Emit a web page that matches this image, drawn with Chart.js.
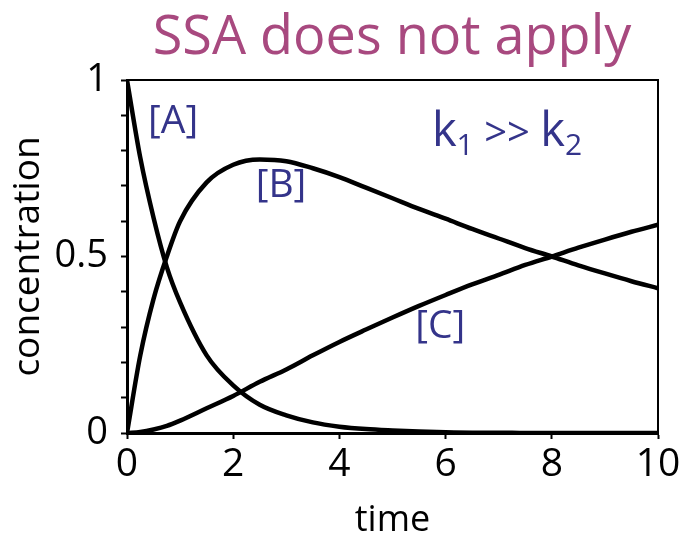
<!DOCTYPE html>
<html>
<head>
<meta charset="utf-8">
<script src="https://cdn.jsdelivr.net/npm/chart.js@4.4.1/dist/chart.umd.min.js"></script>
<style>
  html, body { margin: 0; padding: 0; background: #fff; }
  #wrap { width: 687px; height: 536px; }
</style>
</head>
<body>
<div id="wrap"><canvas id="chart" width="687" height="536"></canvas></div>
<script>
// time points and concentrations
const times = [0, 0.25, 0.5, 0.75, 1, 1.5, 2, 2.5, 3, 3.5, 4, 4.5, 5, 5.5, 6, 6.5, 7, 7.5, 8, 8.5, 9, 9.5, 10];
const concA = [1, 0.78, 0.61, 0.47, 0.37, 0.22, 0.135, 0.08, 0.05, 0.03, 0.018, 0.011, 0.007, 0.004, 0.002, 0.001, 0.001, 0, 0, 0, 0, 0, 0];
const concB = [0, 0.22, 0.38, 0.5, 0.6, 0.71, 0.76, 0.775, 0.77, 0.75, 0.725, 0.695, 0.665, 0.635, 0.607, 0.578, 0.551, 0.524, 0.5, 0.475, 0.452, 0.43, 0.41];
const concC = [0, 0.003, 0.01, 0.02, 0.035, 0.07, 0.105, 0.145, 0.18, 0.22, 0.258, 0.293, 0.327, 0.36, 0.391, 0.421, 0.448, 0.476, 0.5, 0.525, 0.548, 0.57, 0.59];

const xTicks = [0, 2, 4, 6, 8, 10];
const yLabels = { 0: '0', 5: '0.5', 10: '1' };

const FONT = "'Open Sans', sans-serif";
const PINK = '#a8497f';
const NAVY = '#34348a';

const series = (ys) => times.map((t, i) => ({ x: t, y: ys[i] }));

// curve labels, in data coordinates
const curveLabels = [
  { text: '[A]', t: 0.87, c: 0.88 },
  { text: '[B]', t: 2.9,  c: 0.70 },
  { text: '[C]', t: 5.9,  c: 0.30 },
];

const overlay = {
  id: 'overlay',
  afterDraw(chart) {
    const { ctx, chartArea: a, scales } = chart;
    ctx.save();

    // top + right frame
    ctx.strokeStyle = '#000';
    ctx.lineWidth = 2;
    ctx.beginPath();
    ctx.moveTo(a.left, a.top);
    ctx.lineTo(a.right, a.top);
    ctx.lineTo(a.right, a.bottom);
    ctx.stroke();

    // title
    ctx.fillStyle = PINK;
    ctx.font = '54px ' + FONT;
    ctx.textAlign = 'center';
    ctx.textBaseline = 'alphabetic';
    ctx.fillText('SSA does not apply', 392, 54);

    // [A] [B] [C]
    ctx.fillStyle = NAVY;
    ctx.font = '39px ' + FONT;
    ctx.textBaseline = 'middle';
    curveLabels.forEach(l => {
      ctx.fillText(l.text, scales.x.getPixelForValue(l.t), scales.y.getPixelForValue(l.c));
    });

    // k1 >> k2
    const parts = [
      { s: 'k', size: 47, dy: 0 },
      { s: '1', size: 30, dy: 9 },
      { s: ' >> ', size: 40, dy: 0 },
      { s: 'k', size: 47, dy: 0 },
      { s: '2', size: 30, dy: 9 },
    ];
    ctx.textAlign = 'left';
    ctx.textBaseline = 'alphabetic';
    let w = 0;
    parts.forEach(p => { ctx.font = p.size + 'px ' + FONT; w += ctx.measureText(p.s).width; });
    let x = 507 - w / 2;
    parts.forEach(p => {
      ctx.font = p.size + 'px ' + FONT;
      ctx.fillText(p.s, x, 146 + p.dy);
      x += ctx.measureText(p.s).width;
    });
    ctx.restore();
  }
};

const lineStyle = { borderColor: '#000', borderWidth: 4.5, pointRadius: 0, fill: false, cubicInterpolationMode: 'monotone' };

new Chart(document.getElementById('chart'), {
  type: 'line',
  data: {
    datasets: [
      { label: '[A]', data: series(concA), ...lineStyle },
      { label: '[B]', data: series(concB), ...lineStyle },
      { label: '[C]', data: series(concC), ...lineStyle },
    ],
  },
  options: {
    responsive: false,
    animation: false,
    layout: { padding: { top: 80, right: 29, left: 0, bottom: 0 } },
    plugins: { legend: { display: false }, tooltip: { enabled: false } },
    scales: {
      x: {
        type: 'linear',
        min: 0, max: 10,
        afterFit: s => { s.height = 103; },
        afterBuildTicks: s => { s.ticks = xTicks.map(v => ({ value: v })); },
        ticks: { color: '#000', font: { family: FONT, size: 39 }, padding: 2, maxRotation: 0 },
        grid: { drawOnChartArea: false, drawTicks: true, tickLength: 6, tickWidth: 2, color: '#000' },
        border: { display: true, color: '#000', width: 3 },
        title: { display: true, text: 'time', color: '#000', font: { family: FONT, size: 36 }, padding: { top: 0, bottom: -6 } },
      },
      y: {
        min: 0, max: 1,
        afterFit: s => { s.width = 127; },
        ticks: {
          stepSize: 0.1, autoSkip: false, color: '#000', padding: 13,
          font: { family: FONT, size: 38 },
          callback: v => yLabels[Math.round(v * 10)] || '',
        },
        grid: { drawOnChartArea: false, drawTicks: true, tickLength: 6, tickWidth: 2, color: '#000' },
        border: { display: true, color: '#000', width: 3 },
        title: { display: true, text: 'concentration', color: '#000', font: { family: FONT, size: 37 }, padding: { top: 6, bottom: 0 } },
      },
    },
  },
  plugins: [overlay],
});
</script>
</body>
</html>
